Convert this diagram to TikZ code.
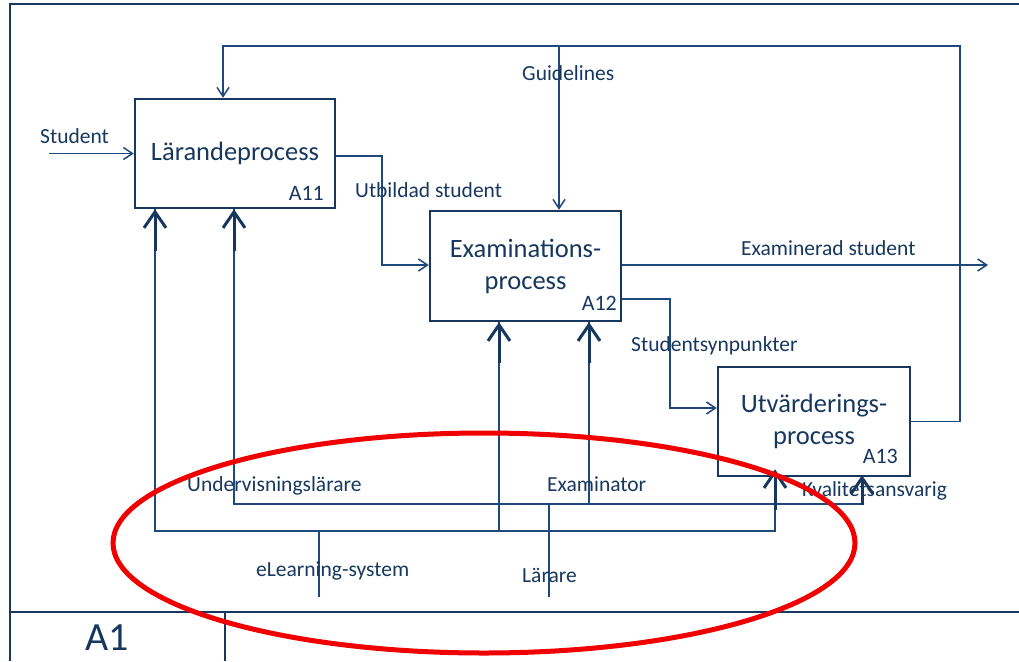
\documentclass[tikz,border=0pt]{standalone}
\usepackage{fontspec}
\setmainfont{Carlito}
\usetikzlibrary{arrows.meta}
\definecolor{navy}{RGB}{23,55,94}
\definecolor{lnavy}{RGB}{31,73,125}
\definecolor{ellred}{RGB}{240,0,0}
\tikzset{
  proc/.style={draw=navy, line width=2.5pt, rectangle, inner sep=0pt, text=navy,
    font=\fontsize{26.5}{32}\selectfont, align=center},
  lbl/.style={anchor=base west, inner sep=0pt, text=navy, font=\fontsize{21.5}{25}\selectfont},
  alabel/.style={anchor=base east, inner sep=0pt, text=navy, font=\fontsize{22}{26}\selectfont},
  conn/.style={draw=lnavy, line width=1.5pt},
  arr/.style={conn, -{Straight Barb[length=9pt,width=12pt]}},
  mech/.style={draw=navy, line width=3pt, -{Straight Barb[length=16pt,width=22pt]}},
  frameline/.style={draw=navy, line width=2.2pt},
}
\begin{document}
\begin{tikzpicture}[x=1pt,y=-1pt]
\useasboundingbox (0,0) rectangle (1019,661);
% frame
\draw[frameline] (1019,4) -- (10,4) -- (10,661);
\draw[frameline, line width=1.8pt] (10,612) -- (1019,612);
\draw[frameline, line width=1.8pt] (225,612) -- (225,661);
\node[anchor=base west, inner sep=0pt, text=navy, font=\fontsize{40}{44}\selectfont] (a1) at (85,650) {A1};

% boxes
\node[proc, minimum width=200pt, minimum height=109pt] (A11) at (235,153.5) {Lärandeprocess};
\node[proc, minimum width=191pt, minimum height=110pt] (A12) at (525.5,266) {Examinations-\\process};
\node[proc, minimum width=192pt, minimum height=109pt] (A13) at (814,421.5) {Utvärderings-\\process};
\node[alabel] (l11) at (324,200) {A11};
\node[alabel] (l12) at (617,310) {A12};
\node[alabel] (l13) at (898,463) {A13};

% coordinates
\coordinate (sIn) at (49,153.5);
\coordinate (jU) at (382,265);
\coordinate (eOut) at (988,265);
\coordinate (jS) at (670,408);
\coordinate (fbR) at (960,46);
\coordinate (fbL) at (223,46);
\coordinate (gTop) at (559,46);
\coordinate (b1) at (155,531);
\coordinate (b2) at (775,531);
\coordinate (c1) at (234,504);
\coordinate (c2) at (862,504);
\coordinate (d1) at (499,531);
\coordinate (d2) at (589,504);
\coordinate (e1) at (319,531);
\coordinate (e2) at (319,597);
\coordinate (f1) at (549,504);
\coordinate (f2) at (549,597);

% inputs / outputs
\draw[arr] (sIn) -- (A11.west);
\draw[arr] ([yshift=-2.5pt]A11.east) -| (jU) -- (A12.west |- jU);
\draw[arr] (A12.east |- eOut) -- (eOut);
\draw[arr] ([yshift=-33pt]A12.east) -| (jS) -- (A13.west |- jS);
\draw[arr] (A13.east) -| (fbR) -- (fbL) -- (A11.north -| fbL);
\draw[arr] (gTop) -- (A12.north -| gTop);

% mechanisms (thin lines)
\draw[conn] (A11.south -| b1) -- (b1) -- (b2) -- (A13.south -| b2);
\draw[conn] (A11.south -| c1) -- (c1) -- (c2) -- (A13.south -| c2);
\draw[conn] (A12.south -| d1) -- (d1);
\draw[conn] (A12.south -| d2) -- (d2);
\draw[conn] (e1) -- (e2);
\draw[conn] (f1) -- (f2);

% mechanisms (bold arrow ends)
\draw[mech] ([yshift=-42pt]A11.south -| b1) -- (A11.south -| b1);
\draw[mech] ([yshift=-42pt]A11.south -| c1) -- (A11.south -| c1);
\draw[mech] ([yshift=-41pt]A12.south -| d1) -- (A12.south -| d1);
\draw[mech] ([yshift=-41pt]A12.south -| d2) -- (A12.south -| d2);
\draw[mech] ([yshift=-33pt]A13.south -| b2) -- ([yshift=8pt]A13.south -| b2);
\draw[mech] ([yshift=-28pt]A13.south -| c2) -- ([yshift=2pt]A13.south -| c2);

% labels
\node[lbl] (tStudent) at (40,143) {Student};
\node[lbl] (tUtb) at (355,197) {Utbildad student};
\node[lbl] (tGuide) at (522,80) {Guidelines};
\node[lbl] (tExam) at (741,255) {Examinerad student};
\node[lbl] (tSyn) at (631,351) {Studentsynpunkter};
\node[lbl] (tUnd) at (187,491) {Undervisningslärare};
\node[lbl] (tExr) at (547,491) {Examinator};
\node[lbl] (tKval) at (802,496) {Kvalitetsansvarig};
\node[lbl] (tElearn) at (256,576) {eLearning-system};
\node[lbl] (tLar) at (522,582) {Lärare};

% red ellipse
\draw[ellred, line width=5pt] (484,543) ellipse [x radius=371pt, y radius=110pt];
\end{tikzpicture}
\end{document}
